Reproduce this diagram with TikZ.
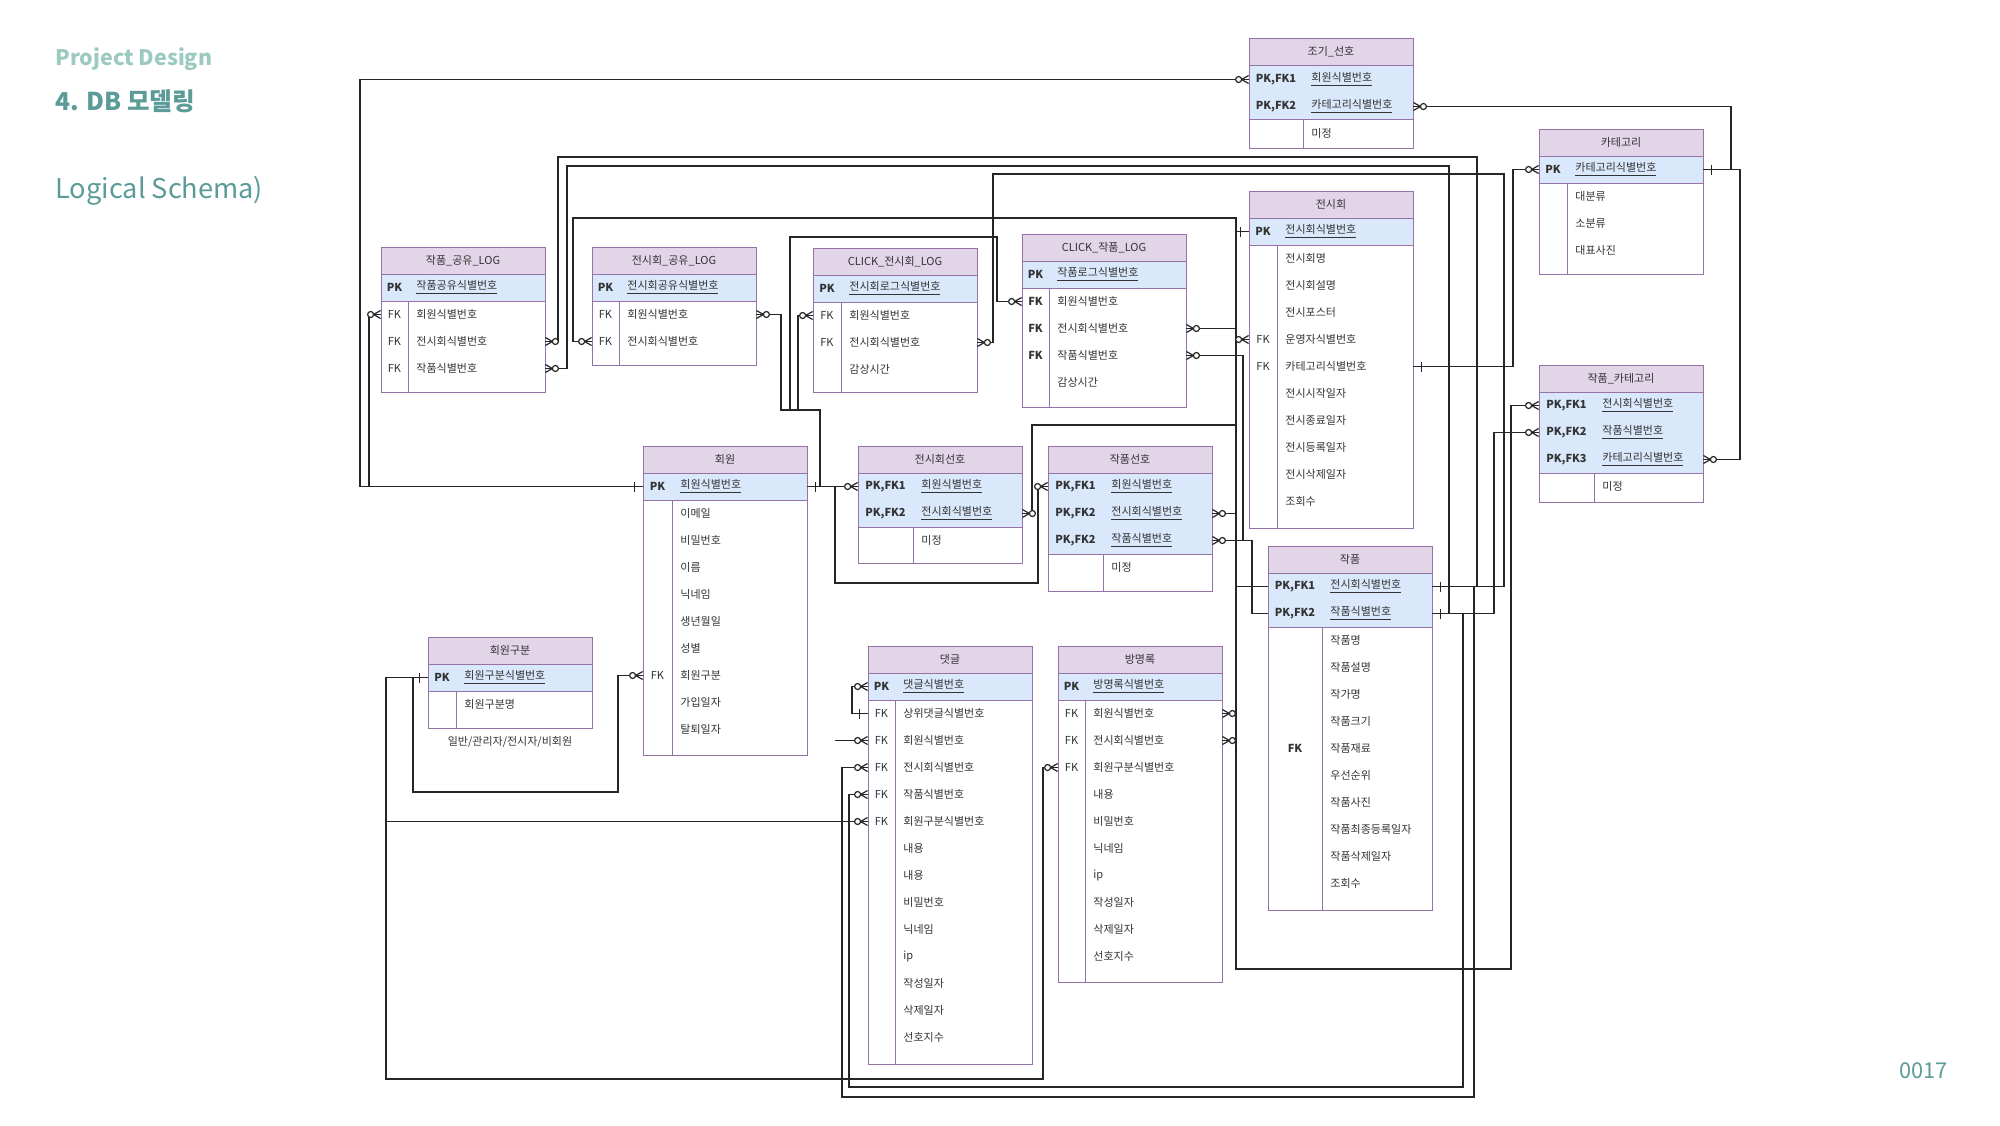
\documentclass[tikz,border=0pt]{standalone}
\usepackage{fontspec}
\setmainfont{Noto Sans CJK KR}
\usetikzlibrary{calc}
\definecolor{ttlfill}{HTML}{E1D5E7}
\definecolor{pkfill}{HTML}{DAE8FC}
\definecolor{bdr}{HTML}{9673A6}
\definecolor{tealA}{HTML}{5B9C98}
\definecolor{tealB}{HTML}{9CCAC0}
\definecolor{txt}{HTML}{333333}
\newcommand\tfont{\fontsize{5.5}{6.5}\selectfont}
\tikzset{
  tbline/.style={draw=bdr, line width=0.5pt},
  ttl/.style={draw=bdr, line width=0.5pt, fill=ttlfill, minimum width=82pt, minimum height=13.5pt, inner sep=0pt, font=\tfont, text=txt},
  rowb/.style={minimum width=82pt, minimum height=13.5pt, inner sep=0pt},
  kt/.style={font=\tfont, inner sep=0pt, text=txt},
  ft/.style={font=\tfont, inner sep=0pt, anchor=west, text=txt},
  conn/.style={line width=0.6pt, draw=black!85},
}
% table frame: name, x, top, npk, keyw, bottom, title
\newcommand\tb[7]{%
  \fill[pkfill] (#2,#3+27) rectangle (#2+164,#3+27+27*#4);
  \draw[tbline] (#2,#3+27+27*#4) -- (#2+164,#3+27+27*#4);
  \draw[tbline] (#2+#5,#3+27+27*#4) -- (#2+#5,#6);
  \draw[tbline] (#2,#3) rectangle (#2+164,#6);
  \node[ttl] (#1) at (#2+82,#3+13.5) {#7};
}
% row: name, x, ycenter, keyw, key, field
\newcommand\rw[6]{%
  \node[rowb] (#1) at (#2+82,#3) {};
  \node[kt] (#1k) at (#2+#4/2,#3) {#5};
  \node[ft] (#1f) at (#2+#4+8,#3) {#6};
}
\newcommand\pk[6]{\rw{#1}{#2}{#3}{#4}{\textbf{#5}}{\underline{#6}}}
% end markers
\newcommand\zmW[1]{\draw[conn] ($(#1)+(0,-4)$) -- ++(-7,4) -- ++(7,4); \draw[conn,fill=white] ($(#1)+(-10,0)$) circle[radius=3];}
\newcommand\zmE[1]{\draw[conn] ($(#1)+(0,-4)$) -- ++(7,4) -- ++(-7,4); \draw[conn,fill=white] ($(#1)+(10,0)$) circle[radius=3];}
\newcommand\oneW[1]{\draw[conn] ($(#1)+(-8,-5)$) -- ++(0,10);}
\newcommand\oneE[1]{\draw[conn] ($(#1)+(8,-5)$) -- ++(0,10);}
\begin{document}
\begin{tikzpicture}[x=0.5pt,y=-0.5pt]
\useasboundingbox (0,0) rectangle (2000,1125);
% headings
\node[anchor=base west, inner sep=0pt, text=tealB, font=\fontsize{10.7}{12}\selectfont\bfseries] (h1) at (55,65) {Project Design};
\node[anchor=base west, inner sep=0pt, text=tealA, font=\fontsize{12.3}{14}\selectfont\bfseries] (h2) at (55,110) {4. DB 모델링};
\node[anchor=base west, inner sep=0pt, text=tealA, font=\fontsize{13.6}{15}\selectfont] (h3) at (55,198) {Logical Schema)};
\node[anchor=base west, inner sep=0pt, text=tealA, font=\fontsize{10.9}{12}\selectfont] (pg) at (1899,1078) {0017};

% T1 작품_공유_LOG
\tb{T1}{381}{247}{1}{27}{392}{작품\_공유\_LOG}
\pk{T1a}{381}{287.5}{27}{PK}{작품공유식별번호}
\rw{T1b}{381}{314.5}{27}{FK}{회원식별번호}
\rw{T1c}{381}{341.5}{27}{FK}{전시회식별번호}
\rw{T1d}{381}{368.5}{27}{FK}{작품식별번호}
% T2 전시회_공유_LOG
\tb{T2}{592}{247}{1}{27}{365}{전시회\_공유\_LOG}
\pk{T2a}{592}{287.5}{27}{PK}{전시회공유식별번호}
\rw{T2b}{592}{314.5}{27}{FK}{회원식별번호}
\rw{T2c}{592}{341.5}{27}{FK}{전시회식별번호}
% T3 CLICK_전시회_LOG
\tb{T3}{813}{248}{1}{28}{392}{CLICK\_전시회\_LOG}
\pk{T3a}{813}{288.5}{28}{PK}{전시회로그식별번호}
\rw{T3b}{813}{315.5}{28}{FK}{회원식별번호}
\rw{T3c}{813}{342.5}{28}{FK}{전시회식별번호}
\rw{T3d}{813}{369.5}{28}{}{감상시간}
% T4 CLICK_작품_LOG
\tb{T4}{1022}{234}{1}{27}{407}{CLICK\_작품\_LOG}
\pk{T4a}{1022}{274.5}{27}{PK}{작품로그식별번호}
\rw{T4b}{1022}{301.5}{27}{\textbf{FK}}{회원식별번호}
\rw{T4c}{1022}{328.5}{27}{\textbf{FK}}{전시회식별번호}
\rw{T4d}{1022}{355.5}{27}{\textbf{FK}}{작품식별번호}
\rw{T4e}{1022}{382.5}{27}{}{감상시간}
% T5 조기_선호
\tb{T5}{1249}{38}{2}{54}{148}{조기\_선호}
\pk{T5a}{1249}{79.5}{54}{PK,FK1}{회원식별번호}
\pk{T5b}{1249}{106.5}{54}{PK,FK2}{카테고리식별번호}
\rw{T5c}{1249}{133.5}{54}{}{미정}
% T6 카테고리
\tb{T6}{1539}{129}{1}{28}{274}{카테고리}
\pk{T6a}{1539}{169.5}{28}{PK}{카테고리식별번호}
\rw{T6b}{1539}{196.5}{28}{}{대분류}
\rw{T6c}{1539}{223.5}{28}{}{소분류}
\rw{T6d}{1539}{250.5}{28}{}{대표사진}
% T7 전시회
\tb{T7}{1249}{191}{1}{28}{528}{전시회}
\pk{T7a}{1249}{231.5}{28}{PK}{전시회식별번호}
\rw{T7b}{1249}{258.5}{28}{}{전시회명}
\rw{T7c}{1249}{285.5}{28}{}{전시회설명}
\rw{T7d}{1249}{312.5}{28}{}{전시포스터}
\rw{T7e}{1249}{339.5}{28}{FK}{운영자식별번호}
\rw{T7f}{1249}{366.5}{28}{FK}{카테고리식별번호}
\rw{T7g}{1249}{393.5}{28}{}{전시시작일자}
\rw{T7h}{1249}{420.5}{28}{}{전시종료일자}
\rw{T7i}{1249}{447.5}{28}{}{전시등록일자}
\rw{T7j}{1249}{474.5}{28}{}{전시삭제일자}
\rw{T7k}{1249}{501.5}{28}{}{조회수}
% T8 작품_카테고리
\tb{T8}{1539}{365}{3}{55}{502}{작품\_카테고리}
\pk{T8a}{1539}{405.5}{55}{PK,FK1}{전시회식별번호}
\pk{T8b}{1539}{432.5}{55}{PK,FK2}{작품식별번호}
\pk{T8c}{1539}{459.5}{55}{PK,FK3}{카테고리식별번호}
\rw{T8d}{1539}{486.5}{55}{}{미정}
% T9 회원
\tb{T9}{643}{446}{1}{29}{755}{회원}
\pk{T9a}{643}{486.5}{29}{PK}{회원식별번호}
\rw{T9b}{643}{513.5}{29}{}{이메일}
\rw{T9c}{643}{540.5}{29}{}{비밀번호}
\rw{T9d}{643}{567.5}{29}{}{이름}
\rw{T9e}{643}{594.5}{29}{}{닉네임}
\rw{T9f}{643}{621.5}{29}{}{생년월일}
\rw{T9g}{643}{648.5}{29}{}{성별}
\rw{T9h}{643}{675.5}{29}{FK}{회원구분}
\rw{T9i}{643}{702.5}{29}{}{가입일자}
\rw{T9j}{643}{729.5}{29}{}{탈퇴일자}
% T10 회원구분
\tb{T10}{428}{637}{1}{28}{728}{회원구분}
\pk{T10a}{428}{677.5}{28}{PK}{회원구분식별번호}
\rw{T10b}{428}{704.5}{28}{}{회원구분명}
\node[kt] (note) at (510,742) {일반/관리자/전시자/비회원};
% T11 전시회선호
\tb{T11}{858}{446}{2}{55}{563}{전시회선호}
\pk{T11a}{858}{486.5}{55}{PK,FK1}{회원식별번호}
\pk{T11b}{858}{513.5}{55}{PK,FK2}{전시회식별번호}
\rw{T11c}{858}{540.5}{55}{}{미정}
% T12 작품선호
\tb{T12}{1048}{446}{3}{55}{591}{작품선호}
\pk{T12a}{1048}{486.5}{55}{PK,FK1}{회원식별번호}
\pk{T12b}{1048}{513.5}{55}{PK,FK2}{전시회식별번호}
\pk{T12c}{1048}{540.5}{55}{PK,FK2}{작품식별번호}
\rw{T12d}{1048}{567.5}{55}{}{미정}
% T13 작품
\tb{T13}{1268}{546}{2}{54}{910}{작품}
\pk{T13a}{1268}{586.5}{54}{PK,FK1}{전시회식별번호}
\pk{T13b}{1268}{613.5}{54}{PK,FK2}{작품식별번호}
\rw{T13c}{1268}{640.5}{54}{}{작품명}
\rw{T13d}{1268}{667.5}{54}{}{작품설명}
\rw{T13e}{1268}{694.5}{54}{}{작가명}
\rw{T13f}{1268}{721.5}{54}{}{작품크기}
\rw{T13g}{1268}{748.5}{54}{\textbf{FK}}{작품재료}
\rw{T13h}{1268}{775.5}{54}{}{우선순위}
\rw{T13i}{1268}{802.5}{54}{}{작품사진}
\rw{T13j}{1268}{829.5}{54}{}{작품최종등록일자}
\rw{T13k}{1268}{856.5}{54}{}{작품삭제일자}
\rw{T13l}{1268}{883.5}{54}{}{조회수}
% T14 댓글
\tb{T14}{868}{646}{1}{27}{1064}{댓글}
\pk{T14a}{868}{686.5}{27}{PK}{댓글식별번호}
\rw{T14b}{868}{713.5}{27}{FK}{상위댓글식별번호}
\rw{T14c}{868}{740.5}{27}{FK}{회원식별번호}
\rw{T14d}{868}{767.5}{27}{FK}{전시회식별번호}
\rw{T14e}{868}{794.5}{27}{FK}{작품식별번호}
\rw{T14f}{868}{821.5}{27}{FK}{회원구분식별번호}
\rw{T14g}{868}{848.5}{27}{}{내용}
\rw{T14h}{868}{875.5}{27}{}{내용}
\rw{T14i}{868}{902.5}{27}{}{비밀번호}
\rw{T14j}{868}{929.5}{27}{}{닉네임}
\rw{T14k}{868}{956.5}{27}{}{ip}
\rw{T14l}{868}{983.5}{27}{}{작성일자}
\rw{T14m}{868}{1010.5}{27}{}{삭제일자}
\rw{T14n}{868}{1037.5}{27}{}{선호지수}
% T15 방명록
\tb{T15}{1058}{646}{1}{27}{982}{방명록}
\pk{T15a}{1058}{686.5}{27}{PK}{방명록식별번호}
\rw{T15b}{1058}{713.5}{27}{FK}{회원식별번호}
\rw{T15c}{1058}{740.5}{27}{FK}{전시회식별번호}
\rw{T15d}{1058}{767.5}{27}{FK}{회원구분식별번호}
\rw{T15e}{1058}{794.5}{27}{}{내용}
\rw{T15f}{1058}{821.5}{27}{}{비밀번호}
\rw{T15g}{1058}{848.5}{27}{}{닉네임}
\rw{T15h}{1058}{875.5}{27}{}{ip}
\rw{T15i}{1058}{902.5}{27}{}{작성일자}
\rw{T15j}{1058}{929.5}{27}{}{삭제일자}
\rw{T15k}{1058}{956.5}{27}{}{선호지수}

% ---------- bend points ----------
\coordinate (cA) at (360,0);
\coordinate (cB) at (369,0);
\coordinate (vA1) at (558,157);  \coordinate (vA2) at (1477,157);
\coordinate (vB1) at (567,166);  \coordinate (vB2) at (1449,166);
\coordinate (vC1) at (573,218);  \coordinate (vC2) at (1236,218);
\coordinate (vE1) at (1236,969); \coordinate (vE2) at (1511,969);
\coordinate (vD1) at (1032,425);
\coordinate (vF1) at (993,174);  \coordinate (vF2) at (1504,174);
\coordinate (vG0) at (781,410);  \coordinate (vG1) at (798,410); \coordinate (vG) at (820,410);
\coordinate (vH1) at (997,237);  \coordinate (vH2) at (790,237);
\coordinate (vI1) at (1038,583); \coordinate (vI2) at (835,583);
\coordinate (vJ) at (852,0);
\coordinate (vK1) at (842,1097); \coordinate (vK2) at (1474,1097);
\coordinate (vL1) at (849,1087); \coordinate (vL2) at (1463,1087);
\coordinate (vM) at (1494,0);
\coordinate (vN1) at (386,1079); \coordinate (vN2) at (1043,1079);
\coordinate (vO1) at (413,792);  \coordinate (vO2) at (618,792);
\coordinate (vP) at (1731,0);
\coordinate (vQ) at (1740,0);
\coordinate (vR) at (1513,0);
\coordinate (vS) at (1243,0);
\coordinate (vT) at (1252,0);

% ---------- connectors ----------
% 회원 PK west
\draw[conn] (T5a.west) -- (T5a.west -| cA) -- (T9a.west -| cA) -- (T9a.west);
\draw[conn] (T1b.west) -- (T1b.west -| cB) -- (T9a.west -| cB);
% 작품_공유 -> 작품
\draw[conn] (T1c.east) -- (T1c.east -| vA1) -- (vA1) -- (vA2) -- (vA2 |- T13a.east);
\draw[conn] (T1d.east) -- (T1d.east -| vB1) -- (vB1) -- (vB2) -- (vB2 |- T13b.east);
% CLICK_전시회 -> 작품
\draw[conn] (T3c.east) -- (T3c.east -| vF1) -- (vF1) -- (vF2) -- (vF2 |- T13a.east);
\draw[conn] (T13a.east) -- (T13a.east -| vF2);
% 전시회 bus
\draw[conn] (T2c.west) -- (T2c.west -| vC1) -- (vC1) -- (vC2) -- (vE1) -- (vE2) -- (vE2 |- T8a.west) -- (T8a.west);
\draw[conn] (T7a.west) -- (T7a.west -| vC2);
\draw[conn] (T7e.west) -- (T7e.west -| vC2);
\draw[conn] (T13a.west) -- (T13a.west -| vC2);
\draw[conn] (T4c.east) -- (T4c.east -| vC2);
\draw[conn] (T12b.east) -- (T12b.east -| vC2);
\draw[conn] (T15b.east) -- (T15b.east -| vC2);
\draw[conn] (T15c.east) -- (T15c.east -| vC2);
\draw[conn] (T11b.east) -- (T11b.east -| vD1) -- (vD1) -- (vD1 -| vC2);
% 작품 PK,FK2 west
\draw[conn] (T4d.east) -- (T4d.east -| vS) -- (T12c.east -| vS);
\draw[conn] (T12c.east) -- (T12c.east -| vT) -- (T13b.west -| vT) -- (T13b.west);
% 회원 PK east
\draw[conn] (T9a.east) -- (T11a.west);
\draw[conn] (T2b.east) -- (T2b.east -| vG0) -- (vG0) -- (vG) -- (vG |- T9a.east);
\draw[conn] (T3b.west) -- (T3b.west -| vG1) -- (vG1);
\draw[conn] (T4b.west) -- (T4b.west -| vH1) -- (vH1) -- (vH2) -- (vH2 |- vG);
\draw[conn] (T12a.west) -- (T12a.west -| vI1) -- (vI1) -- (vI2) -- (vI2 |- T9a.east);
\draw[conn] (T14c.west) -- (T14c.west -| vI2);
% 댓글
\draw[conn] (T14a.west) -- (T14a.west -| vJ) -- (T14b.west -| vJ) -- (T14b.west);
\draw[conn] (T14d.west) -- (T14d.west -| vK1) -- (vK1) -- (vK2) -- (vK2 |- T13a.east);
\draw[conn] (T14e.west) -- (T14e.west -| vL1) -- (vL1) -- (vL2) -- (vL2 |- T13b.east);
\draw[conn] (T8b.west) -- (T8b.west -| vM) -- (vM |- T13b.east) -- (T13b.east);
% 회원구분
\draw[conn] (T10a.west) -- (T10a.west -| vN1) -- (vN1) -- (vN2) -- (vN2 |- T15d.west) -- (T15d.west);
\draw[conn] (T14f.west) -- (T14f.west -| vN1);
\draw[conn] (T10a.west -| vO1) -- (vO1) -- (vO2) -- (vO2 |- T9h.west) -- (T9h.west);
% 카테고리
\draw[conn] (T5b.east) -- (T5b.east -| vP) -- (vP |- T6a.east) -- (T6a.east);
\draw[conn] (T8c.east) -- (T8c.east -| vQ) -- (vQ |- T6a.east) -- (T6a.east -| vP);
\draw[conn] (T6a.west) -- (T6a.west -| vR) -- (vR |- T7f.east) -- (T7f.east);

% ---------- end markers ----------
\zmW{T5a.west}\oneW{T9a.west}\zmW{T1b.west}
\zmE{T1c.east}\zmE{T1d.east}\zmW{T2c.west}\zmE{T2b.east}
\zmW{T3b.west}\zmE{T3c.east}
\zmW{T4b.west}\zmE{T4c.east}\zmE{T4d.east}
\zmE{T5b.east}\oneE{T6a.east}\zmW{T6a.west}\zmE{T8c.east}
\oneW{T7a.west}\zmW{T7e.west}\oneE{T7f.east}
\zmW{T8a.west}\zmW{T8b.west}
\oneE{T9a.east}\zmW{T9h.west}\oneW{T10a.west}
\zmW{T11a.west}\zmE{T11b.east}
\zmW{T12a.west}\zmE{T12b.east}\zmE{T12c.east}
\oneE{T13a.east}\oneE{T13b.east}
\zmW{T14a.west}\oneW{T14b.west}\zmW{T14c.west}\zmW{T14d.west}\zmW{T14e.west}\zmW{T14f.west}
\zmE{T15b.east}\zmE{T15c.east}\zmW{T15d.west}
\end{tikzpicture}
\end{document}
